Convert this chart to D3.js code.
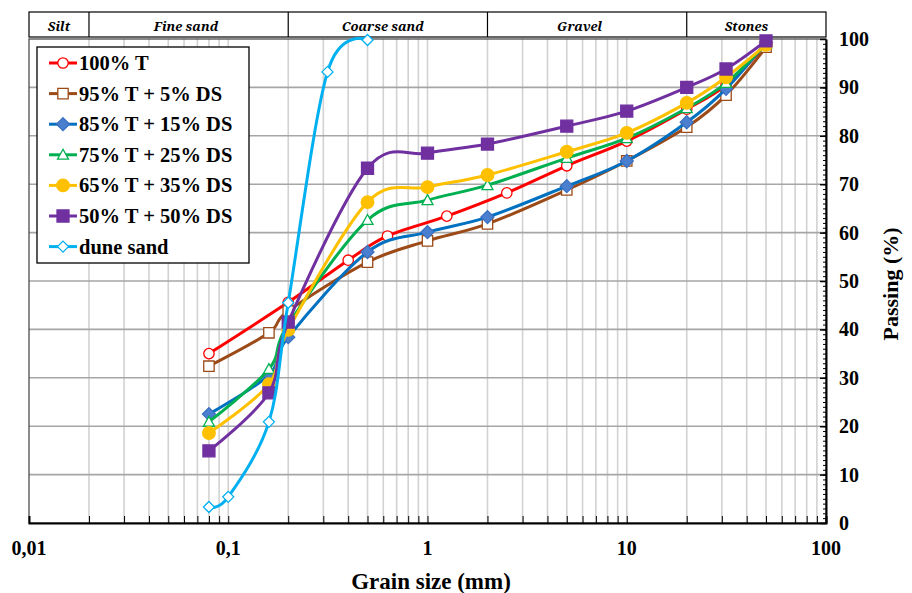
<!DOCTYPE html>
<html>
<head>
<meta charset="utf-8">
<script src="https://cdn.jsdelivr.net/npm/d3@7"></script>
<style>
  html, body { margin: 0; padding: 0; background: #fff; }
  svg { display: block; }
</style>
</head>
<body>
<svg id="chart" width="912" height="593"></svg>
<script>
// Grain size distribution: passing (%) versus sieve opening (mm)
const sieves = [0.08, 0.16, 0.2, 0.5, 1, 2, 5, 10, 20, 31.5, 50];
const sievesT = [0.08, 0.2, 0.4, 0.63, 1.25, 2.5, 5, 10, 20, 31.5, 50];
const sievesDune = [0.08, 0.1, 0.16, 0.2, 0.315, 0.5];

const pass100T  = [35.0, 45.6, 54.3, 59.3, 63.4, 68.2, 73.8, 78.9, 85.5, 90.5, 98.8];
const pass95T   = [32.4, 39.3, 43.8, 53.9, 58.3, 61.8, 68.8, 74.8, 81.8, 88.4, 98.3];
const pass85T   = [22.5, 30.6, 38.4, 56.0, 60.1, 63.2, 69.6, 74.8, 82.8, 89.7, 99.3];
const pass75T   = [20.9, 31.8, 41.0, 62.6, 66.7, 69.8, 75.4, 79.5, 85.7, 90.9, 99.0];
const pass65T   = [18.6, 28.7, 39.9, 66.3, 69.4, 71.9, 76.7, 80.6, 86.8, 92.1, 98.8];
const pass50T   = [14.9, 26.9, 41.5, 73.3, 76.4, 78.3, 82.0, 85.1, 90.0, 93.8, 99.6];
const passDune  = [3.3, 5.4, 20.9, 45.5, 93.2, 99.8];

const seriesNames = ["100% T", "95% T + 5% DS", "85% T + 15% DS", "75% T + 25% DS",
                     "65% T + 35% DS", "50% T + 50% DS", "dune sand"];

// Soil classes along the top band
const classNames = ["Silt", "Fine sand", "Coarse sand", "Gravel", "Stones"];
const classBounds = [0.01, 0.02, 0.2, 2, 20, 100];

const xTickValues = [0.01, 0.1, 1, 10, 100];
const xTickLabels = ["0,01", "0,1", "1", "10", "100"];
const yTickValues = [0, 10, 20, 30, 40, 50, 60, 70, 80, 90, 100];

const styles = [
  { color: "#ff0000", marker: "circle",   fill: "#ffffff", stroke: "#ff0000", size: 5.2 },
  { color: "#9c4a17", marker: "square",   fill: "#ffffff", stroke: "#9c4a17", size: 5.2 },
  { color: "#0070c0", marker: "diamond",  fill: "#4a7fd0", stroke: "#3a6fc0", size: 6.5 },
  { color: "#00b050", marker: "triangle", fill: "#ffffff", stroke: "#00b050", size: 5.5 },
  { color: "#ffc000", marker: "circle",   fill: "#ffc000", stroke: "#ffc000", size: 6.3 },
  { color: "#7030a0", marker: "square",   fill: "#7030a0", stroke: "#7030a0", size: 6 },
  { color: "#00b0f0", marker: "diamond",  fill: "#ffffff", stroke: "#00b0f0", size: 5.5 }
];

(function () {
  const seriesData = [
    [sievesT, pass100T], [sieves, pass95T], [sieves, pass85T], [sieves, pass75T],
    [sieves, pass65T], [sieves, pass50T], [sievesDune, passDune]
  ].map(([xs, ys], i) => ({ name: seriesNames[i], style: styles[i],
    points: xs.map((d, j) => ({ d, p: ys[j] })) }));

  const svg = d3.select("#chart");
  const plotL = 29, plotR = 826, plotT = 39, plotB = 523;
  const bandT = 12, bandB = 37;
  const serif = "Liberation Serif";

  const x = d3.scaleLog().domain([0.01, 100]).range([plotL, plotR]);
  const y = d3.scaleLinear().domain([0, 100]).range([plotB, plotT]);

  // Minor log positions 1..9 x 10^k
  const logTicks = [];
  for (let e = -2; e < 2; e++) for (let m = 1; m < 10; m++) logTicks.push(m * Math.pow(10, e));
  logTicks.push(100);

  // Grid
  const grid = svg.append("g");
  grid.selectAll("line.v").data(logTicks.filter(v => v > 0.01 && v < 100)).join("line")
    .attr("class", "v")
    .attr("x1", d => x(d)).attr("x2", d => x(d)).attr("y1", plotT).attr("y2", plotB)
    .attr("stroke", "#d2d2d2").attr("stroke-width", 1.6);
  grid.selectAll("line.h").data(yTickValues.filter(v => v > 0 && v < 100)).join("line")
    .attr("class", "h")
    .attr("x1", plotL).attr("x2", plotR).attr("y1", d => y(d)).attr("y2", d => y(d))
    .attr("stroke", "#a6a6a6").attr("stroke-width", 1.6);

  // Plot frame
  svg.append("rect").attr("x", plotL).attr("y", plotT).attr("width", plotR - plotL).attr("height", plotB - plotT)
    .attr("fill", "none").attr("stroke", "#404040").attr("stroke-width", 1.2);

  // Bottom axis (ticks pointing inward)
  const gx = svg.append("g").attr("transform", `translate(0,${plotB})`)
    .call(d3.axisTop(x).tickValues(logTicks).tickFormat("").tickSizeOuter(0).tickSize(7));
  gx.select(".domain").attr("stroke", "#000").attr("stroke-width", 2);
  gx.selectAll(".tick line").attr("stroke", "#000").attr("stroke-width", 1);

  svg.append("g").selectAll("text").data(xTickValues).join("text")
    .attr("x", d => x(d)).attr("y", 555)
    .attr("text-anchor", "middle")
    .attr("font-family", serif).attr("font-weight", "bold").attr("font-size", 20)
    .text((d, i) => xTickLabels[i]);

  svg.append("text").attr("x", 431).attr("y", 589).attr("text-anchor", "middle")
    .attr("font-family", serif).attr("font-weight", "bold").attr("font-size", 23)
    .text("Grain size (mm)");

  // Right axis with minor ticks
  const gyMinor = svg.append("g").attr("transform", `translate(${plotR},0)`)
    .call(d3.axisLeft(y).tickValues(d3.range(0, 101, 1)).tickFormat("").tickSize(3).tickSizeOuter(0));
  gyMinor.selectAll(".tick line").attr("stroke", "#000").attr("stroke-width", 1);
  gyMinor.select(".domain").attr("stroke", "#000").attr("stroke-width", 2);
  const gy = svg.append("g").attr("transform", `translate(${plotR},0)`)
    .call(d3.axisLeft(y).tickValues(yTickValues).tickFormat("").tickSize(6).tickSizeOuter(0));
  gy.select(".domain").remove();
  gy.selectAll(".tick line").attr("stroke", "#000").attr("stroke-width", 1.5);

  svg.append("g").selectAll("text").data(yTickValues).join("text")
    .attr("x", 839).attr("y", d => y(d) + 7)
    .attr("font-family", serif).attr("font-weight", "bold").attr("font-size", 20)
    .text(d => d);

  svg.append("text")
    .attr("transform", "translate(898,284) rotate(-90)")
    .attr("text-anchor", "middle")
    .attr("font-family", serif).attr("font-weight", "bold").attr("font-size", 22)
    .text("Passing (%)");

  // Soil class band
  const band = svg.append("g");
  band.append("rect").attr("x", plotL).attr("y", bandT).attr("width", plotR - plotL)
    .attr("height", bandB - bandT).attr("fill", "#fff")
    .attr("stroke", "#000").attr("stroke-width", 1.2);
  band.selectAll("line").data(classBounds.slice(1, -1)).join("line")
    .attr("x1", d => x(d)).attr("x2", d => x(d)).attr("y1", bandT).attr("y2", bandB)
    .attr("stroke", "#000").attr("stroke-width", 1.2);
  band.selectAll("text").data(classNames).join("text")
    .attr("x", (d, i) => (x(classBounds[i]) + x(classBounds[i + 1])) / 2 - i * 2.5)
    .attr("y", 31)
    .attr("text-anchor", "middle")
    .attr("font-family", "Noto Serif").attr("font-weight", "bold").attr("font-style", "italic")
    .attr("font-size", 13)
    .text(d => d);

  // Marker shapes
  function symbolPath(kind, s) {
    if (kind === "square") return `M${-s},${-s}H${s}V${s}H${-s}Z`;
    if (kind === "diamond") return `M0,${-s}L${s},0L0,${s}L${-s},0Z`;
    return `M0,${-s}L${s},${s * 0.8}L${-s},${s * 0.8}Z`;
  }
  function drawMarker(g, st, cx, cy) {
    if (st.marker === "circle") {
      g.append("circle").attr("cx", cx).attr("cy", cy).attr("r", st.size)
        .attr("fill", st.fill).attr("stroke", st.stroke).attr("stroke-width", 1.3);
    } else {
      g.append("path").attr("d", symbolPath(st.marker, st.size))
        .attr("transform", `translate(${cx},${cy})`)
        .attr("fill", st.fill).attr("stroke", st.stroke).attr("stroke-width", 1.3);
    }
  }

  // Curves
  const line = d3.line().x(p => x(p.d)).y(p => y(p.p)).curve(d3.curveCatmullRom.alpha(0));
  const plot = svg.append("g");
  seriesData.forEach(s => {
    const g = plot.append("g");
    g.append("path").datum(s.points).attr("d", line)
      .attr("fill", "none").attr("stroke", s.style.color).attr("stroke-width", 3)
      .attr("stroke-linejoin", "round");
    s.points.forEach(p => drawMarker(g, s.style, x(p.d), y(p.p)));
  });

  // Legend
  const lg = svg.append("g");
  lg.append("rect").attr("x", 37).attr("y", 47).attr("width", 212).attr("height", 216)
    .attr("fill", "#fff").attr("stroke", "#000").attr("stroke-width", 1.3);
  seriesData.forEach((s, i) => {
    const cy = 63 + i * 30.6;
    lg.append("line").attr("x1", 49).attr("x2", 77).attr("y1", cy).attr("y2", cy)
      .attr("stroke", s.style.color).attr("stroke-width", 3);
    drawMarker(lg, s.style, 63, cy);
    lg.append("text").attr("x", 79).attr("y", cy + 7)
      .attr("font-family", serif).attr("font-weight", "bold").attr("font-size", 20.5)
      .text(s.name);
  });
})();
</script>
</body>
</html>
